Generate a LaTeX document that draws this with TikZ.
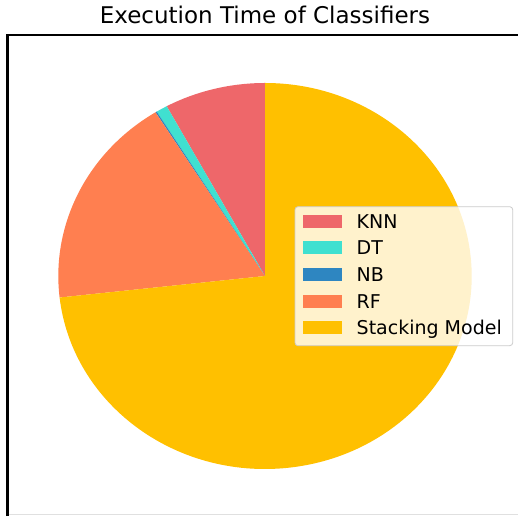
\documentclass[tikz,border=0pt]{standalone}
\usepackage{fontspec}
\setmainfont{DejaVu Sans}
\definecolor{knn}{RGB}{238,103,106}
\definecolor{dt}{RGB}{64,224,208}
\definecolor{nb}{RGB}{46,134,193}
\definecolor{rf}{RGB}{255,127,80}
\definecolor{stk}{RGB}{255,192,0}
\newcommand\pieslice[3]{\fill[#1] (265,240) -- ++({206.7*cos(#2)},{193*sin(#2)}) arc[start angle=#2,end angle=#3,x radius=206.7pt,y radius=193pt] -- cycle;}
\begin{document}
\begin{tikzpicture}[x=1pt,y=1pt,
  patch/.style={minimum width=39.6pt,minimum height=13pt,inner sep=0pt,draw=none},
  lab/.style={anchor=base west,inner sep=0pt,font=\fontsize{19}{21}\selectfont},
  ttl/.style={anchor=base,inner sep=0pt,font=\fontsize{23}{27}\selectfont}]
\useasboundingbox (0,0) rectangle (518,516);
\fill[white] (0,0) rectangle (518,516);
% frame
\draw[line width=2.5pt,miter limit=10] (7.5,0) -- (7.5,481) -- (518,481);
\draw[black!12,line width=1pt] (9,1.5) -- (518,1.5);
% title
\node[ttl] (title) at (265,492) {Execution Time of Classifiers};
% pie
\pieslice{knn}{90}{118.4}
\pieslice{dt}{118.4}{121.6}
\pieslice{nb}{121.6}{122.0}
\pieslice{rf}{122.0}{186.4}
\pieslice{stk}{186.4}{450}
% legend
\node[draw=black!20,line width=0.8pt,fill=white,fill opacity=0.8,rounded corners=3pt,minimum width=217.7pt,minimum height=139pt,inner sep=0pt] (legend) at (403.85,239.8) {};
\node[patch,fill=knn] (pknn) at (322.5,294.7) {};
\node[patch,fill=dt] (pdt) at (322.5,268) {};
\node[patch,fill=nb] (pnb) at (322.5,241.3) {};
\node[patch,fill=rf] (prf) at (322.5,214.7) {};
\node[patch,fill=stk] (pstk) at (322.5,188) {};
\node[lab] (lknn) at (356.5,287.7) {KNN};
\node[lab] (ldt) at (356.5,261) {DT};
\node[lab] (lnb) at (356.5,234.3) {NB};
\node[lab] (lrf) at (356.5,207.7) {RF};
\node[lab] (lstk) at (356.5,181) {Stacking Model};
\end{tikzpicture}
\end{document}
